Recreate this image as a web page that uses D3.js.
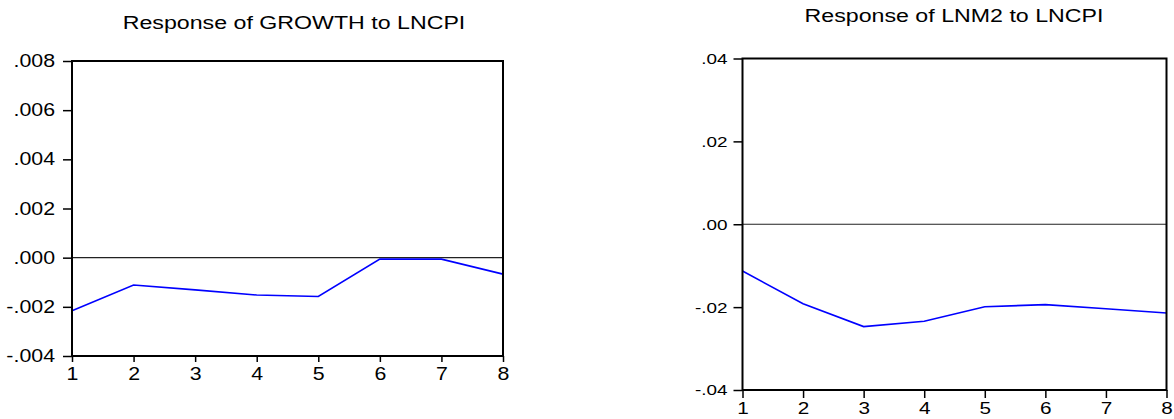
<!DOCTYPE html>
<html>
<head>
<meta charset="utf-8">
<script src="https://cdn.jsdelivr.net/npm/d3@7"></script>
<style>
  html, body { margin: 0; padding: 0; background: #fff; }
  svg { display: block; }
  text { font-family: "Liberation Sans", Arial, sans-serif; fill: #000; }
</style>
</head>
<body>
<svg id="chart" width="1174" height="419"></svg>
<script>
// Impulse responses to a shock in LNCPI, periods 1..8
const periods = [1, 2, 3, 4, 5, 6, 7, 8];
const growthResponse = [-0.00216, -0.00111, -0.00131, -0.00152, -0.00158, -0.00006, -0.00006, -0.00067];
const lnm2Response = [-0.0113, -0.0192, -0.0247, -0.0234, -0.0199, -0.0194, -0.0204, -0.0214];

const growthTicks = [-0.004, -0.002, 0, 0.002, 0.004, 0.006, 0.008];
const lnm2Ticks = [-0.04, -0.02, 0, 0.02, 0.04];

const stretch = 1.22; // horizontal widening of all text

const svg = d3.select("#chart");

// plain hyphen minus, no leading zero: 0.008 -> .008, -0.004 -> -.004
const locale = d3.formatLocale({ decimal: ".", thousands: ",", grouping: [3], currency: ["", ""], minus: "-" });
function evFormat(digits) {
  const f = locale.format("." + digits + "f");
  return v => f(v).replace(/^(-?)0\./, "$1.");
}

function widen(sel) {
  sel.each(function () {
    const t = d3.select(this);
    const x = +t.attr("x") || 0;
    t.attr("x", x / stretch).attr("transform", `scale(${stretch},1)`);
  });
}

function panel(cfg) {
  const x = d3.scaleLinear().domain([1, 8]).range([cfg.left, cfg.right]);
  const y = d3.scaleLinear().domain(cfg.yDomain).range([cfg.bottom, cfg.top]);
  const g = svg.append("g");

  // title
  g.append("text")
    .attr("transform", `translate(${cfg.titleX},${cfg.titleY}) scale(${stretch},1)`)
    .attr("text-anchor", "middle")
    .style("font-size", cfg.titleSize + "px")
    .text(cfg.title);

  // zero reference line
  g.append("line")
    .attr("x1", cfg.left).attr("x2", cfg.right)
    .attr("y1", y(0)).attr("y2", y(0))
    .attr("stroke", "#222").attr("stroke-width", 1.2);

  // response line
  const line = d3.line().x((d, i) => x(periods[i])).y(d => y(d));
  g.append("path")
    .datum(cfg.values)
    .attr("d", line)
    .attr("fill", "none")
    .attr("stroke", "#0000ff")
    .attr("stroke-width", 1.6);

  // y axis
  const ya = g.append("g")
    .attr("transform", `translate(${cfg.left},0)`)
    .call(d3.axisLeft(y).tickValues(cfg.yTicks).tickFormat(evFormat(cfg.digits))
      .tickSize(cfg.yTickSize).tickPadding(cfg.yPad));
  ya.select(".domain").remove();
  ya.selectAll(".tick line").attr("stroke", "#000").attr("stroke-width", 1.5);
  ya.selectAll(".tick text").style("font-size", cfg.tickSize + "px").attr("fill", "#000");
  widen(ya.selectAll(".tick text"));

  // x axis
  const xa = g.append("g")
    .attr("transform", `translate(0,${cfg.bottom})`)
    .call(d3.axisBottom(x).tickValues(periods).tickFormat(d3.format("d"))
      .tickSize(cfg.xTickSize).tickPadding(cfg.xPad));
  xa.select(".domain").remove();
  xa.selectAll(".tick line").attr("stroke", "#000").attr("stroke-width", 1.5);
  xa.selectAll(".tick text").style("font-size", cfg.xLabelSize + "px").attr("fill", "#000");
  widen(xa.selectAll(".tick text"));

  // plot frame
  g.append("rect")
    .attr("x", cfg.left).attr("y", cfg.top)
    .attr("width", cfg.right - cfg.left).attr("height", cfg.bottom - cfg.top)
    .attr("fill", "none").attr("stroke", "#000").attr("stroke-width", 2);
}

panel({
  title: "Response of GROWTH to LNCPI",
  titleX: 294, titleY: 29, titleSize: 19,
  left: 72, right: 503, top: 61, bottom: 356,
  yDomain: [-0.004, 0.008], yTicks: growthTicks, digits: 3,
  values: growthResponse,
  tickSize: 17.5, yTickSize: 9, yPad: 8,
  xLabelSize: 17.5, xTickSize: 6, xPad: 6
});

panel({
  title: "Response of LNM2 to LNCPI",
  titleX: 954, titleY: 21.5, titleSize: 19,
  left: 742.5, right: 1166.5, top: 58.5, bottom: 390,
  yDomain: [-0.04, 0.04], yTicks: lnm2Ticks, digits: 2,
  values: lnm2Response,
  tickSize: 15.5, yTickSize: 9, yPad: 6,
  xLabelSize: 17, xTickSize: 8, xPad: 4
});
</script>
</body>
</html>
